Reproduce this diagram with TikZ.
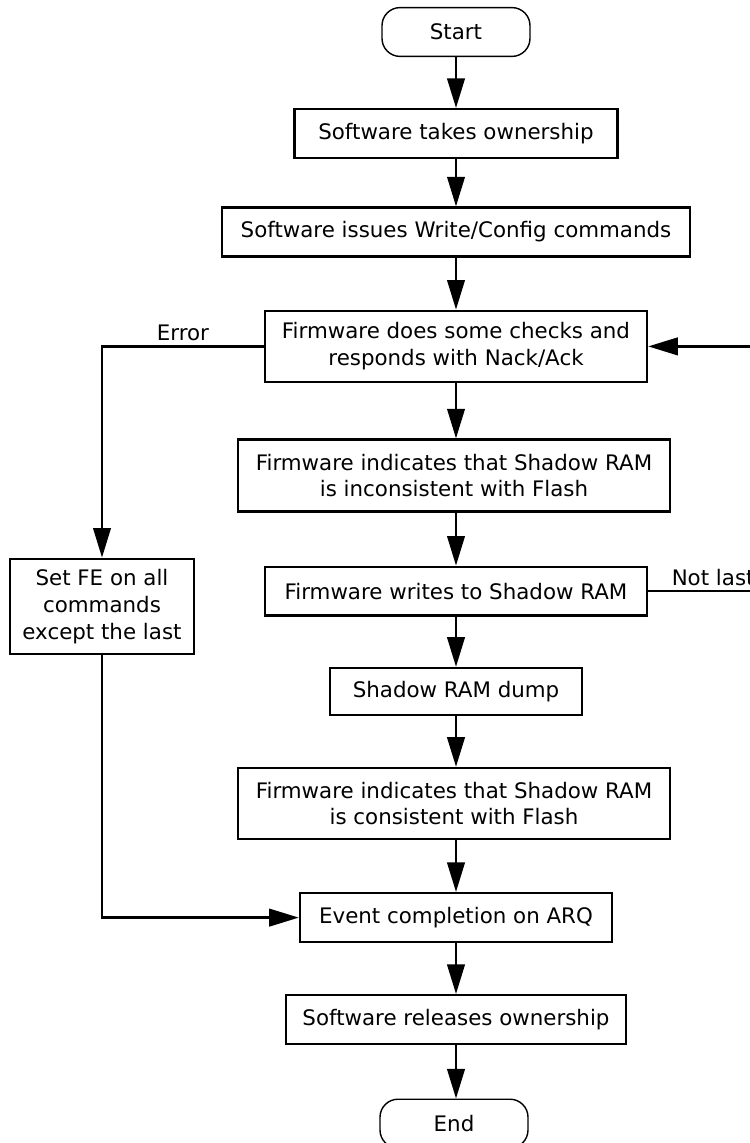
\documentclass[tikz,border=0pt]{standalone}
\usepackage{fontspec}
\setmainfont{DejaVu Sans}
\usetikzlibrary{arrows.meta}
\tikzset{
  procbox/.style={rectangle, draw=black, line width=1.8pt, inner sep=0pt, align=center, minimum height=1.22cm},
  termbox/.style={rectangle, rounded corners=0.45cm, draw=black, line width=1pt, inner sep=0pt, minimum width=3.7cm, minimum height=1.22cm},
  flow/.style={-{Triangle[length=21pt, width=12.5pt]}, line width=1.6pt},
}

\begin{document}
\begin{tikzpicture}[font=\fontsize{15.2pt}{19pt}\selectfont]
\useasboundingbox (0,0) rectangle (18.725,-28.575);

\node[termbox] (st) at (11.4,-0.8) {Start};
\node[procbox, minimum width=8.08cm] (1) at (11.4,-3.34) {Software takes ownership};
\node[procbox, minimum width=11.7cm] (2) at (11.4,-5.8) {Software issues Write/Config commands};
\node[procbox, minimum width=9.55cm, minimum height=1.78cm] (3) at (11.4,-8.66) {Firmware does some checks and\\responds with Nack/Ack};
\node[procbox, minimum width=10.8cm, minimum height=1.8cm] (4) at (11.35,-11.89) {Firmware indicates that Shadow RAM\\is inconsistent with Flash};
\node[procbox, minimum width=9.55cm] (5) at (11.4,-14.78) {Firmware writes to Shadow RAM};
\node[procbox, minimum width=6.3cm, minimum height=1.18cm] (6) at (11.4,-17.29) {Shadow RAM dump};
\node[procbox, minimum width=10.8cm, minimum height=1.78cm] (7) at (11.35,-20.09) {Firmware indicates that Shadow RAM\\is consistent with Flash};
\node[procbox, minimum width=7.8cm] (8) at (11.4,-22.94) {Event completion on ARQ};
\node[procbox, minimum width=8.5cm] (9) at (11.4,-25.49) {Software releases ownership};
\node[termbox] (en) at (11.35,-28.09) {End};

\node[procbox, minimum width=4.6cm, minimum height=2.38cm] (fe) at (2.55,-15.16) {Set FE on all\\commands\\except the last};

\draw[flow] (st) -- (1);
\draw[flow] (1) -- (2);
\draw[flow] (2) -- (3);
\draw[flow] (3) -- (3 |- 4.north);
\draw[flow] (4.south -| 5) -- (5);
\draw[flow] (5) -- (6);
\draw[flow] (6) -- (6 |- 7.north);
\draw[flow] (7.south -| 8) -- (8);
\draw[flow] (8) -- (9);
\draw[flow] (9) -- (9 |- en.north);

% error branch
\draw[flow] (3) -| node[pos=0.25, above] {Error} (fe);
\draw[flow] (fe) |- (8);

% loop back, runs off the page
\coordinate (nl) at (19.45,-14.78);
\draw[flow] (5) -- node[above] {Not last} (nl) |- (3);
\end{tikzpicture}
\end{document}
